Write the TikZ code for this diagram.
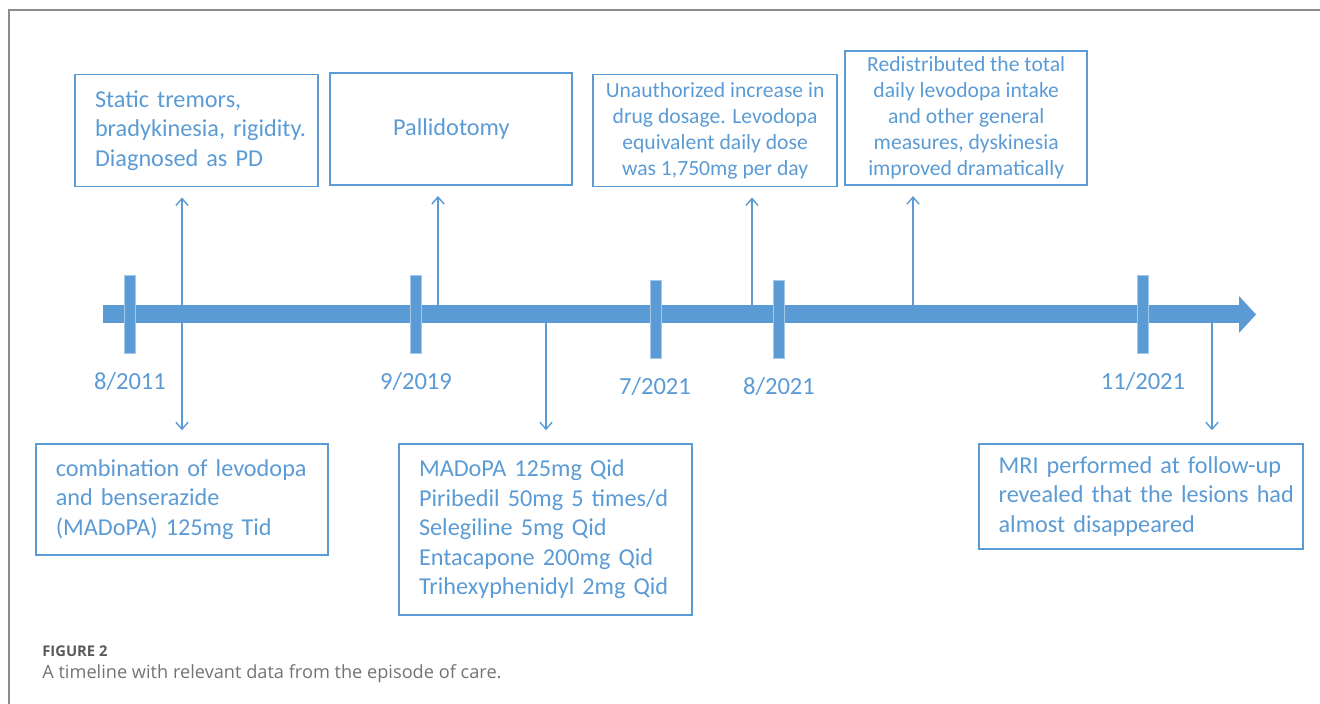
\documentclass[tikz,border=0pt]{standalone}
\usepackage{fontspec}
\setmainfont{Carlito}
\newfontfamily\capfont{Open Sans}
\usepackage{tikz}
\usetikzlibrary{arrows.meta}

\definecolor{tlblue}{HTML}{5B9BD5}
\definecolor{capgray}{HTML}{5A5A5A}
\definecolor{framegray}{HTML}{8C8C8C}

\begin{document}
\begin{tikzpicture}[x=0.02cm, y=-0.02cm,
  event/.style={draw=tlblue, line width=1.1pt, text=tlblue, inner xsep=0.4cm,
    font=\fontsize{13.8}{16.8}\selectfont},
  note/.style={draw=tlblue, line width=1.1pt, text=tlblue, inner xsep=0.1cm,
    align=center, font=\fontsize{12.3}{14.8}\selectfont},
  date/.style={text=tlblue, font=\fontsize{14}{16}\selectfont},
  tick/.style={fill=tlblue, draw=tlblue!55!white, line width=0.4pt},
  link/.style={draw=tlblue, line width=0.8pt, -{Straight Barb[length=4pt,width=7pt]}},
  twoway/.style={link, {Straight Barb[length=4pt,width=7pt]}-{Straight Barb[length=4pt,width=7pt]}}]

\useasboundingbox (0,0) rectangle (1320,704);

% frame
\draw[framegray, line width=1.2pt] (9,704) -- (9,10) -- (1320,10);

% timeline bar and ticks
\fill[tlblue] (103,305) rectangle (1239,323);
\fill[tlblue] (1239,296) -- (1256,314.5) -- (1239,333) -- cycle;
\foreach \x/\t in {130/275, 416/275, 656/280, 779/280, 1143/275}
  \path[tick] (\x-5.5,\t) rectangle (\x+5.5,\t+78);

\node[date] (d2011) at (130,381) {8/2011};
\node[date] (d2019) at (416,381) {9/2019};
\node[date] (d0721) at (655,386) {7/2021};
\node[date] (d0821) at (779,386) {8/2021};
\node[date] (d1121) at (1143,381) {11/2021};

% boxes above the line
\node[event, minimum width=4.86cm, minimum height=2.24cm, text width=4.06cm, align=left]
  (tremor) at (196.5,130.5) {Static tremors,\\ \mbox{bradykinesia, rigidity.}\\ Diagnosed as PD};
\node[event, minimum width=4.84cm, minimum height=2.24cm, align=center]
  (pallid) at (451.4,129) {Pallidotomy};
\node[note, minimum width=4.87cm, minimum height=2.24cm]
  (increase) at (715.1,130.5) {Unauthorized increase in\\ drug dosage. Levodopa\\
  equivalent daily dose\\ was 1,750mg per day};
\node[note, minimum width=4.84cm, minimum height=2.69cm]
  (redist) at (966.2,117.9) {Redistributed the total\\ daily levodopa intake\\
  and other general\\ measures, dyskinesia\\ improved dramatically};

% boxes below the line
\node[event, minimum width=5.85cm, minimum height=2.23cm, text width=5.05cm, align=left]
  (combo) at (182,499.5) {combination of levodopa\\ and benserazide\\ (MADoPA) 125mg Tid};
\node[event, minimum width=5.86cm, minimum height=3.42cm, text width=5.06cm, align=left]
  (drugs) at (545.5,529.2) {MADoPA 125mg Qid\\ Piribedil 50mg 5 times/d\\
  Selegiline 5mg Qid\\ Entacapone 200mg Qid\\ Trihexyphenidyl 2mg Qid};
\node[event, minimum width=6.48cm, minimum height=2.1cm, text width=5.68cm, align=left]
  (mri) at (1140.6,496.2) {MRI performed at follow-up\\ \mbox{revealed that the lesions had}\\
  almost disappeared};

% where the arrows leave the bar
\coordinate (a2011) at (182,314);
\coordinate (a2019) at (438,305);
\coordinate (a2019b) at (546,323);
\coordinate (a0721) at (752,305);
\coordinate (a0821) at (913,305);
\coordinate (a1121) at (1212,323);

\draw[twoway, shorten <=0.2cm, shorten >=0.25cm] (tremor.south -| a2011) -- (combo.north -| a2011);
\draw[link, shorten >=0.2cm] (a2019) -- (pallid.south -| a2019);
\draw[link, shorten >=0.25cm] (a2019b) -- (drugs.north -| a2019b);
\draw[link, shorten >=0.2cm] (a0721) -- (increase.south -| a0721);
\draw[link, shorten >=0.2cm] (a0821) -- (redist.south -| a0821);
\draw[link, shorten >=0.25cm] (a1121) -- (mri.north -| a1121);

% caption
\node[anchor=west, inner sep=0pt, text=capgray, font=\capfont\bfseries\fontsize{8.4}{10}\selectfont]
  (figno) at (42,651) {FIGURE 2};
\node[anchor=west, inner sep=0pt, text=capgray!85!white, font=\capfont\fontsize{10.35}{13}\selectfont]
  (figtxt) at (42,674) {A timeline with relevant data from the episode of care.};

\end{tikzpicture}
\end{document}
